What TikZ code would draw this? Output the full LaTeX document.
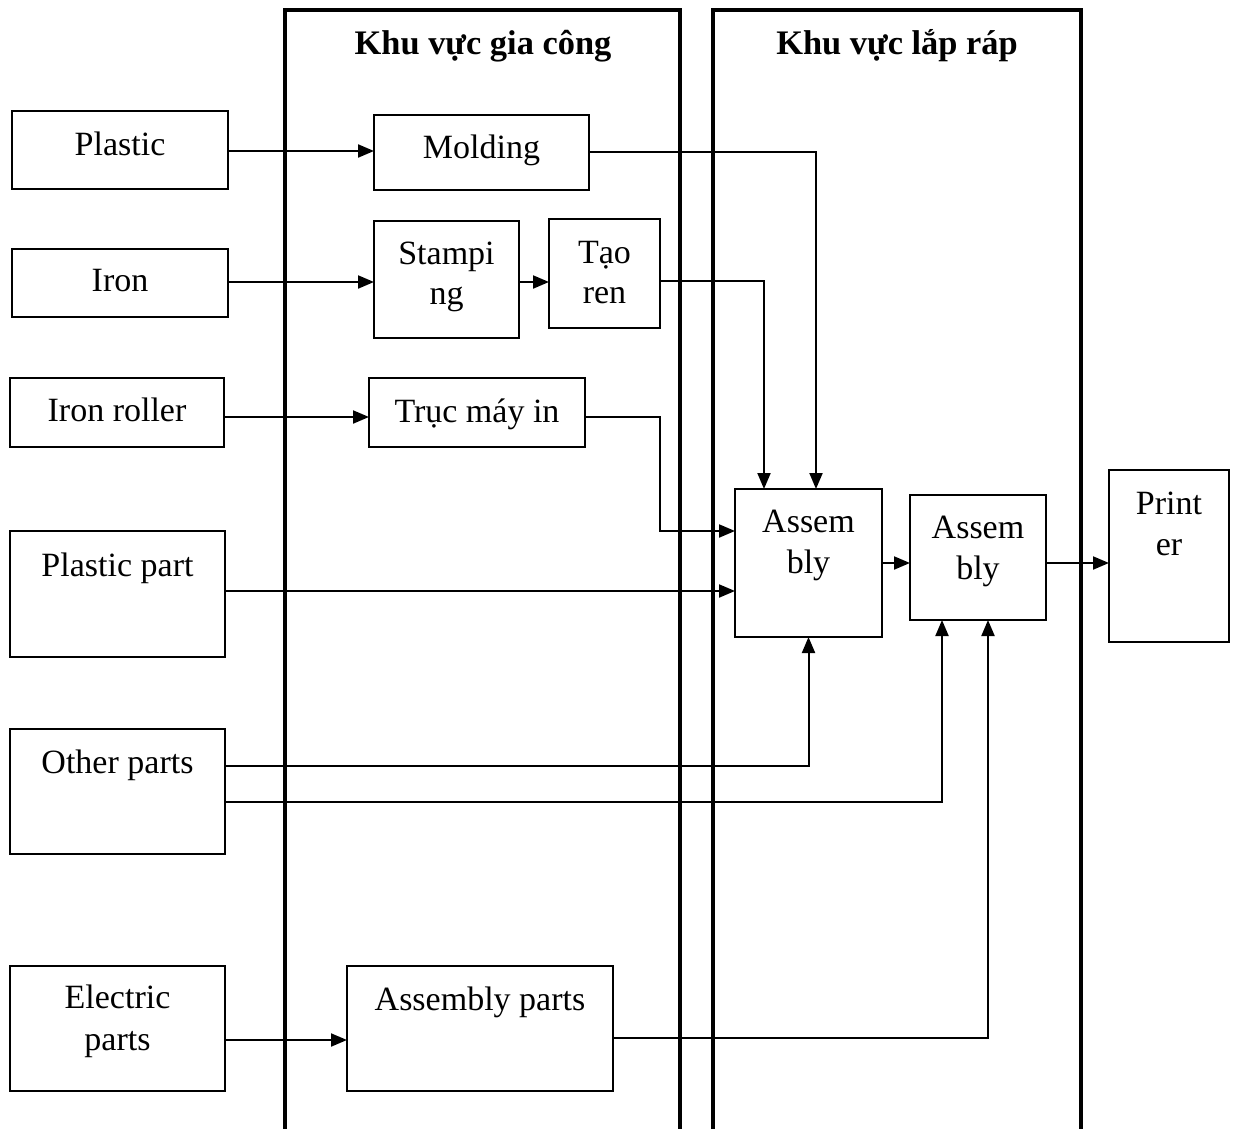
\documentclass[tikz,border=0pt]{standalone}
\usepackage{fontspec}
\setmainfont{Liberation Serif}
\usetikzlibrary{arrows.meta}
\begin{document}
\begin{tikzpicture}[x=1pt,y=-1pt,
  box/.style={draw,line width=2pt,inner sep=0pt,outer sep=0pt},
  lbl/.style={anchor=base,inner sep=0pt,font=\fontsize{34}{40}\selectfont},
  ttl/.style={anchor=base,inner sep=0pt,font=\fontsize{34.4}{40}\selectfont\bfseries},
  zone/.style={line width=4pt},
  arr/.style={line width=2pt,-{Triangle[length=16pt,width=13pt]}},
  wire/.style={line width=2pt}]
\useasboundingbox (0,0) rectangle (1234,1129);

% work zones
\draw[zone] (285,1135) -- (285,10) -- (680,10) -- (680,1135);
\draw[zone] (713,1135) -- (713,10) -- (1081,10) -- (1081,1135);
\node[ttl] (t1) at (483,55) {Khu vực gia công};
\node[ttl] (t2) at (897,55) {Khu vực lắp ráp};

% raw materials
\node[box,minimum width=216,minimum height=78] (plastic) at (120,150) {};
\node[box,minimum width=216,minimum height=68] (iron) at (120,283) {};
\node[box,minimum width=214,minimum height=69] (roller) at (117,412.5) {};
\node[box,minimum width=215,minimum height=126] (ppart) at (117.5,594) {};
\node[box,minimum width=215,minimum height=125] (other) at (117.5,791.5) {};
\node[box,minimum width=215,minimum height=125] (elec) at (117.5,1028.5) {};
\node[lbl] (plasticT) at (120,156) {Plastic};
\node[lbl] (ironT) at (120,291) {Iron};
\node[lbl] (rollerT) at (117,421) {Iron roller};
\node[lbl] (ppartT) at (117.5,576) {Plastic part};
\node[lbl] (otherT) at (117.5,773) {Other parts};
\node[lbl] (elecT1) at (117.5,1008) {Electric};
\node[lbl] (elecT2) at (117.5,1050) {parts};

% processing
\node[box,minimum width=215,minimum height=75] (molding) at (481.5,152.5) {};
\node[box,minimum width=145,minimum height=117] (stamp) at (446.5,279.5) {};
\node[box,minimum width=111,minimum height=109] (tao) at (604.5,273.5) {};
\node[box,minimum width=216,minimum height=69] (truc) at (477,412.5) {};
\node[box,minimum width=266,minimum height=125] (aparts) at (480,1028.5) {};
\node[lbl] (moldingT) at (481.5,158) {Molding};
\node[lbl] (stampT1) at (446.5,264) {Stampi};
\node[lbl] (stampT2) at (446.5,304) {ng};
\node[lbl] (taoT1) at (604.5,263) {Tạo};
\node[lbl] (taoT2) at (604.5,303) {ren};
\node[lbl] (trucT) at (477,422) {Trục máy in};
\node[lbl] (apartsT) at (480,1010) {Assembly parts};

% assembly
\node[box,minimum width=147,minimum height=148] (asm1) at (808.5,563) {};
\node[box,minimum width=136,minimum height=125] (asm2) at (978,557.5) {};
\node[box,minimum width=120,minimum height=172] (printer) at (1169,556) {};
\node[lbl] (asm1T1) at (808.5,532) {Assem};
\node[lbl] (asm1T2) at (808.5,573) {bly};
\node[lbl] (asm2T1) at (978,538) {Assem};
\node[lbl] (asm2T2) at (978,579) {bly};
\node[lbl] (printerT1) at (1169,514) {Print};
\node[lbl] (printerT2) at (1169,555) {er};

% flows
\draw[arr] ([yshift=-1]plastic.east) -- ([yshift=-1]plastic.east -| molding.west);
\draw[arr] ([yshift=1]iron.east) -- ([yshift=1]iron.east -| stamp.west);
\draw[arr] ([yshift=-2.5]stamp.east) -- ([yshift=-2.5]stamp.east -| tao.west);
\draw[arr] ([yshift=-4.5]roller.east) -- ([yshift=-4.5]roller.east -| truc.west);
\draw[arr] (molding.east) -| ([xshift=7.5]asm1.north);
\draw[arr] ([yshift=-7.5]tao.east) -| ([xshift=-44.5]asm1.north);
\draw[arr] ([yshift=-4.5]truc.east) -- ++(75,0) |- ([yshift=32]asm1.west);
\draw[arr] ([yshift=3]ppart.east) -- ([yshift=3]ppart.east -| asm1.west);
\draw[arr] ([yshift=25.5]other.east) -| (asm1.south);
\draw[arr] ([yshift=-10.5]other.east) -| ([xshift=-36]asm2.south);
\draw[arr] ([yshift=-11.5]elec.east) -- ([yshift=-11.5]elec.east -| aparts.west);
\draw[arr] ([yshift=-9.5]aparts.east) -| ([xshift=10]asm2.south);
\draw[arr] (asm1.east) -- (asm1.east -| asm2.west);
\draw[arr] ([yshift=-5.5]asm2.east) -- ([yshift=-5.5]asm2.east -| printer.west);
\end{tikzpicture}
\end{document}
